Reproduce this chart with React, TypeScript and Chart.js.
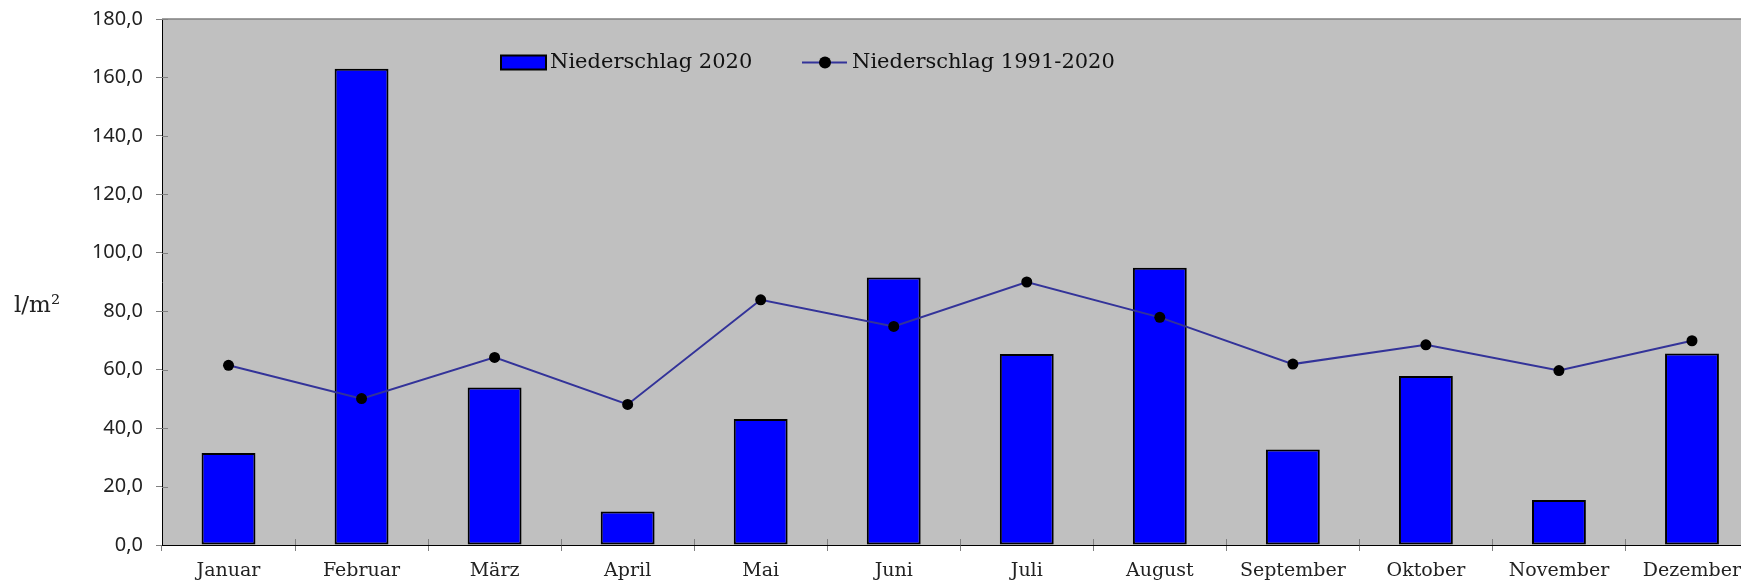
import React, { useEffect, useRef } from "react";
import { Chart, registerables } from "chart.js";

Chart.register(...registerables);

const months = ["Januar", "Februar", "März", "April", "Mai", "Juni", "Juli", "August", "September", "Oktober", "November", "Dezember"];
const precip2020 = [31.5, 163.0, 53.9, 11.5, 43.1, 91.5, 65.4, 94.9, 32.7, 57.8, 15.4, 65.5];
const precipMean = [61.5, 50.1, 64.2, 48.1, 83.9, 74.8, 90.0, 77.9, 61.9, 68.5, 59.7, 69.9];
const seriesLabels = ["Niederschlag 2020", "Niederschlag 1991-2020"];
const yAxisTitle = "l/m²";
const yMin = 0;
const yMax = 180;
const yStep = 20;

const CANVAS_W = 1764;
const CANVAS_H = 585;

const decorPlugin = {
  id: "decor",
  beforeDraw(chart: any) {
    const { ctx, chartArea: a } = chart;
    ctx.save();
    ctx.fillStyle = "#C0C0C0";
    ctx.fillRect(a.left, a.top, a.right - a.left, a.bottom - a.top);
    ctx.strokeStyle = "#808080";
    ctx.lineWidth = 1.5;
    ctx.beginPath();
    ctx.moveTo(a.left, a.top);
    ctx.lineTo(a.right, a.top);
    ctx.stroke();
    ctx.restore();
  },
  beforeDatasetsDraw(chart: any) {
    const { ctx, chartArea: a, scales } = chart;
    ctx.save();
    ctx.strokeStyle = "#808080";
    ctx.lineWidth = 1;
    const ys = scales.y;
    ys.ticks.forEach((t: any, i: number) => {
      if (t.value === 0) return;
      const y = Math.round(ys.getPixelForTick(i)) + 0.5;
      ctx.beginPath();
      ctx.moveTo(a.left, y);
      ctx.lineTo(a.left + 6, y);
      ctx.stroke();
    });
    const n = chart.data.labels.length;
    const w = (a.right - a.left) / n;
    for (let i = 1; i < n; i++) {
      const x = Math.round(a.left + i * w) + 0.5;
      ctx.beginPath();
      ctx.moveTo(x, a.bottom - 6);
      ctx.lineTo(x, a.bottom);
      ctx.stroke();
    }
    ctx.restore();
  },
  afterDraw(chart: any) {
    const { ctx, chartArea: a } = chart;
    const ds = chart.data.datasets;
    ctx.save();
    // y axis title
    ctx.fillStyle = "#222";
    ctx.font = '23px "DejaVu Serif"';
    ctx.textAlign = "left";
    ctx.textBaseline = "middle";
    ctx.fillText(yAxisTitle, 14, 306);

    // legend
    const cy = a.top + 43.5;
    const barDs = ds.find((d: any) => d.type === "bar");
    const lineDs = ds.find((d: any) => d.type === "line");
    ctx.font = '21px "DejaVu Serif"';
    // bar item
    const bx = a.left + 339;
    ctx.fillStyle = barDs.backgroundColor;
    ctx.fillRect(bx, cy - 7, 45, 14);
    ctx.strokeStyle = barDs.borderColor;
    ctx.lineWidth = 2;
    ctx.strokeRect(bx, cy - 7, 45, 14);
    ctx.fillStyle = "#111";
    ctx.fillText(barDs.label, bx + 49, cy);
    // line item
    const lx = a.left + 640;
    ctx.strokeStyle = lineDs.borderColor;
    ctx.lineWidth = 2;
    ctx.beginPath();
    ctx.moveTo(lx, cy);
    ctx.lineTo(lx + 45, cy);
    ctx.stroke();
    ctx.fillStyle = lineDs.pointBackgroundColor;
    ctx.beginPath();
    ctx.arc(lx + 23, cy, 6, 0, Math.PI * 2);
    ctx.fill();
    ctx.fillStyle = "#111";
    ctx.fillText(lineDs.label, lx + 50, cy);
    ctx.restore();
  },
};

export default function App() {
  const ref = useRef<HTMLCanvasElement | null>(null);
  useEffect(() => {
    if (!ref.current) return;
    const chart = new Chart(ref.current, {
      type: "bar",
      data: {
        labels: months,
        datasets: [
          {
            type: "line",
            label: seriesLabels[1],
            data: precipMean,
            borderColor: "#333399",
            borderWidth: 2,
            pointBackgroundColor: "#000000",
            pointBorderColor: "#000000",
            pointRadius: 5.5,
            pointBorderWidth: 0,
            tension: 0,
            order: 0,
          } as any,
          {
            type: "bar",
            label: seriesLabels[0],
            data: precip2020,
            backgroundColor: "#0000FF",
            borderColor: "#000000",
            borderWidth: 2,
            borderSkipped: false,
            barPercentage: 0.405,
            categoryPercentage: 1,
            order: 1,
          } as any,
        ],
      },
      options: {
        responsive: false,
        animation: false,
        layout: { padding: { top: 19, left: 0, right: 0, bottom: 0 } },
        plugins: {
          legend: { display: false },
          tooltip: { enabled: false },
        },
        scales: {
          x: {
            offset: true,
            grid: { offset: true, drawOnChartArea: false, drawTicks: true, tickLength: 6, color: "#808080" },
            border: { color: "#000000", width: 1 },
            ticks: {
              color: "#222",
              font: { family: "DejaVu Serif", size: 19 },
              padding: 9,
              maxRotation: 0,
              autoSkip: false,
            },
            afterFit(scale: any) {
              scale.height = 40;
              scale.paddingLeft = 0;
              scale.paddingRight = 0;
            },
          },
          y: {
            min: yMin,
            max: yMax,
            grid: { drawOnChartArea: false, drawTicks: true, tickLength: 6, color: "#808080" },
            border: { color: "#000000", width: 1 },
            ticks: {
              stepSize: yStep,
              color: "#222",
              font: { family: "Noto Sans", size: 20 },
              padding: 13,
              callback: (v: any) => Number(v).toFixed(1).replace(".", ","),
            },
            afterFit(scale: any) {
              scale.width = 162;
              scale.paddingTop = 0;
              scale.paddingBottom = 0;
            },
          },
        },
      },
      plugins: [decorPlugin],
    });
    return () => chart.destroy();
  }, []);
  return (
    <div style={{ position: "absolute", left: 0, top: 0, width: 1741, height: 585, overflow: "hidden", background: "#fff" }}>
      <canvas ref={ref} width={CANVAS_W} height={CANVAS_H} style={{ width: CANVAS_W, height: CANVAS_H, display: "block" }} />
    </div>
  );
}
